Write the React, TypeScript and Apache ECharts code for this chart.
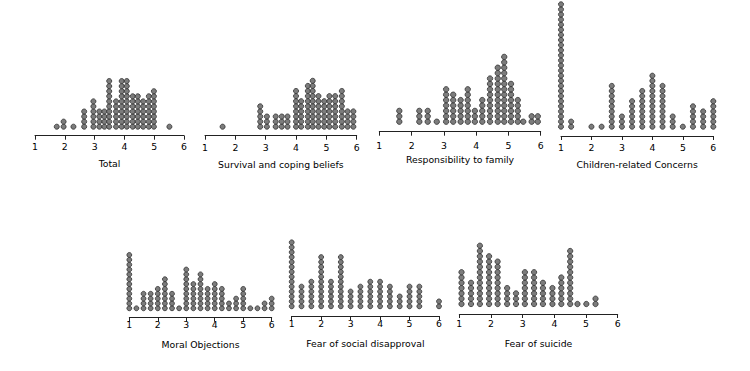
import React, { useEffect, useRef } from "react";
import * as echarts from "echarts";

// ---- data (column position on the 1–6 scale, number of stacked dots) ----
const titles = [
  "Total",
  "Survival and coping beliefs",
  "Responsibility to family",
  "Children-related Concerns",
  "Moral Objections",
  "Fear of social disapproval",
  "Fear of suicide",
];

const totalX = [1.73, 1.96, 2.29, 2.65, 2.96, 3.16, 3.33, 3.49, 3.72, 3.91, 4.08, 4.28, 4.45, 4.63, 4.82, 4.99, 5.51];
const totalN = [1, 2, 1, 4, 6, 4, 4, 10, 6, 10, 10, 7, 7, 6, 7, 8, 1];

const survivalX = [1.58, 2.82, 3.04, 3.33, 3.53, 3.72, 4.0, 4.17, 4.39, 4.55, 4.74, 4.93, 5.1, 5.29, 5.51, 5.7, 5.89];
const survivalN = [1, 5, 3, 3, 3, 3, 8, 6, 9, 10, 7, 6, 7, 7, 8, 4, 4];

const familyX = [1.62, 2.24, 2.5, 2.78, 3.07, 3.29, 3.52, 3.74, 3.96, 4.19, 4.43, 4.67, 4.87, 5.08, 5.29, 5.46, 5.72, 5.91];
const familyN = [3, 3, 3, 1, 7, 6, 5, 7, 3, 5, 9, 11, 13, 8, 5, 1, 2, 2];

const childrenX = [1, 1.333, 2, 2.333, 2.667, 3, 3.333, 3.667, 4, 4.333, 4.667, 5, 5.333, 5.667, 6];
const childrenN = [25, 2, 1, 1, 9, 3, 6, 8, 11, 9, 3, 1, 5, 4, 6];

const moralX = [1, 1.25, 1.5, 1.75, 2, 2.25, 2.5, 2.75, 3, 3.25, 3.5, 3.75, 4, 4.25, 4.5, 4.75, 5, 5.25, 5.5, 5.75, 6];
const moralN = [12, 1, 4, 4, 5, 7, 4, 1, 9, 6, 8, 5, 6, 5, 2, 3, 5, 1, 1, 2, 3];

const socialX = [1, 1.333, 1.667, 2, 2.333, 2.667, 3, 3.333, 3.667, 4, 4.333, 4.667, 5, 5.333, 6];
const socialN = [14, 5, 6, 11, 6, 11, 4, 5, 6, 6, 5, 3, 5, 5, 2];

const suicideX = [1.07, 1.37, 1.65, 1.94, 2.21, 2.51, 2.79, 3.07, 3.36, 3.64, 3.94, 4.22, 4.5, 4.73, 5.01, 5.3];
const suicideN = [7, 5, 12, 10, 9, 4, 3, 7, 7, 5, 4, 6, 11, 1, 1, 2];

const seriesData = [
  [totalX, totalN],
  [survivalX, survivalN],
  [familyX, familyN],
  [childrenX, childrenN],
  [moralX, moralN],
  [socialX, socialN],
  [suicideX, suicideN],
];

// ---- layout (pixels) ----
const layout = [
  { x1: 35, x6: 184, axisY: 135.7, baseY: 126.7, pitch: 5.07, labelY: 147.3, titleY: 163, top: 0 },
  { x1: 205, x6: 356.7, axisY: 135.7, baseY: 126.7, pitch: 5.1, labelY: 148, titleY: 164, top: 0 },
  { x1: 379.3, x6: 540.7, axisY: 131.7, baseY: 121.7, pitch: 5.4, labelY: 145.7, titleY: 159, top: 0 },
  { x1: 561, x6: 713.3, axisY: 136, baseY: 126.7, pitch: 5.1, labelY: 148, titleY: 164, top: 0 },
  { x1: 129.3, x6: 271.7, axisY: 317.7, baseY: 308.3, pitch: 4.85, labelY: 325.5, titleY: 344, top: 190 },
  { x1: 291.7, x6: 439, axisY: 316, baseY: 306.3, pitch: 4.92, labelY: 324.3, titleY: 343.3, top: 190 },
  { x1: 459.3, x6: 617.7, axisY: 314, baseY: 304, pitch: 5.3, labelY: 324.3, titleY: 343, top: 190 },
];

const FONT = "DejaVu Sans";
const FS = 9.3;

export default function App() {
  const ref = useRef<HTMLDivElement>(null);

  useEffect(() => {
    document.body.style.margin = "0";
    if (!ref.current) return;
    const chart = echarts.init(ref.current, undefined, { renderer: "svg" });

    const grids: any[] = [];
    const xAxes: any[] = [];
    const yAxes: any[] = [];
    const series: any[] = [];

    layout.forEach((L, i) => {
      const height = L.axisY - L.top;
      const yMin = -(L.axisY - L.baseY) / L.pitch;
      const yMax = yMin + height / L.pitch;
      grids.push({ left: L.x1, top: L.top, width: L.x6 - L.x1, height, containLabel: false });
      xAxes.push({
        gridIndex: i,
        type: "value",
        min: 1,
        max: 6,
        interval: 1,
        name: titles[i],
        nameLocation: "middle",
        nameGap: L.titleY - L.axisY - FS / 2 + 0.5,
        nameTextStyle: { fontFamily: FONT, fontSize: FS, color: "#000", verticalAlign: "top" },
        axisLine: { show: true, onZero: false, lineStyle: { color: "#222", width: 1 } },
        axisTick: { show: true, inside: false, length: 4, lineStyle: { color: "#222", width: 1 } },
        axisLabel: {
          show: true,
          margin: L.labelY - L.axisY - FS / 2 - 0.5,
          fontFamily: FONT,
          fontSize: FS,
          color: "#000",
        },
        splitLine: { show: false },
      });
      yAxes.push({
        gridIndex: i,
        type: "value",
        min: yMin,
        max: yMax,
        show: false,
        splitLine: { show: false },
      });
      const [xs, ns] = seriesData[i];
      const pts: number[][] = [];
      xs.forEach((x, j) => {
        for (let k = 0; k < ns[j]; k++) pts.push([x, k]);
      });
      series.push({
        type: "scatter",
        xAxisIndex: i,
        yAxisIndex: i,
        data: pts,
        symbol: "circle",
        symbolSize: L.pitch,
        clip: false,
        itemStyle: { color: "#7c7c7c", borderColor: "#2a2a2a", borderWidth: 0.75, opacity: 1 },
        emphasis: { disabled: true },
      });
    });

    chart.setOption({
      animation: false,
      backgroundColor: "#ffffff",
      grid: grids,
      xAxis: xAxes,
      yAxis: yAxes,
      series,
    });

    return () => chart.dispose();
  }, []);

  return <div ref={ref} style={{ width: 750, height: 371 }} />;
}
